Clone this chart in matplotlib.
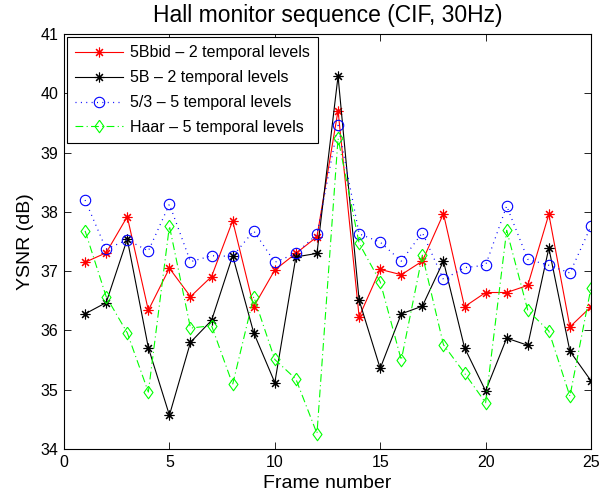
import matplotlib
matplotlib.use("Agg")
import matplotlib.pyplot as plt

plt.rcParams['font.family'] = ['Liberation Sans', 'DejaVu Sans']

frames = list(range(1, 26))
psnr_5bbid = [37.15, 37.31, 37.92, 36.34, 37.05, 36.57, 36.91, 37.85, 36.40, 37.02,
              37.30, 37.58, 39.71, 36.23, 37.03, 36.94, 37.17, 37.97, 36.40, 36.64,
              36.64, 36.76, 37.96, 36.06, 36.40]
psnr_5b = [36.28, 36.47, 37.54, 35.71, 34.57, 35.80, 36.17, 37.26, 35.96, 35.12,
           37.24, 37.30, 40.29, 36.51, 35.36, 36.28, 36.41, 37.17, 35.71, 34.98,
           35.87, 35.75, 37.39, 35.65, 35.15]
psnr_53 = [38.20, 37.37, 37.53, 37.34, 38.13, 37.16, 37.26, 37.25, 37.68, 37.15,
           37.30, 37.62, 39.46, 37.63, 37.49, 37.17, 37.65, 36.86, 37.06, 37.10,
           38.10, 37.20, 37.10, 36.97, 37.76]
psnr_haar = [37.68, 36.57, 35.96, 34.96, 37.76, 36.04, 36.08, 35.09, 36.57, 35.51,
             35.18, 34.26, 39.24, 37.47, 36.82, 35.50, 37.27, 35.76, 35.28, 34.78,
             37.69, 36.34, 35.99, 34.89, 36.72]

labels = ["5Bbid \u2013 2 temporal levels", "5B \u2013 2 temporal levels",
          "5/3 \u2013 5 temporal levels", "Haar \u2013 5 temporal levels"]
x_ticks = [0, 5, 10, 15, 20, 25]
y_ticks = [34, 35, 36, 37, 38, 39, 40, 41]

# eight-spoke asterisk and a slightly narrow diamond
asterisk = (8, 2, 0)
diamond = [(0, 1), (0.72, 0), (0, -1), (-0.72, 0), (0, 1)]

fig = plt.figure(figsize=(6.0, 5.01), dpi=100)
ax = fig.add_axes([0.1067, 0.1038, 0.8783, 0.8282])

ax.plot(frames, psnr_5bbid, color='red', linestyle='-', linewidth=0.8,
        marker=asterisk, markersize=7, markeredgewidth=0.8, label=labels[0])
ax.plot(frames, psnr_5b, color='black', linestyle='-', linewidth=0.8,
        marker=asterisk, markersize=7, markeredgewidth=0.8, label=labels[1])
ax.plot(frames, psnr_53, color='blue', linestyle=(0, (0.8, 3.5)), linewidth=0.9,
        marker='o', markersize=7.5, markerfacecolor='none', markeredgewidth=0.8,
        label=labels[2])
ax.plot(frames, psnr_haar, color=(0, 1, 0), linestyle=(0, (7, 3, 1, 3)), linewidth=0.8,
        marker=diamond, markersize=9, markerfacecolor='none', markeredgewidth=0.8,
        label=labels[3])

ax.set_xlim(0, 25)
ax.set_ylim(34, 41)
ax.set_xticks(x_ticks)
ax.set_yticks(y_ticks)
ax.tick_params(direction='in', top=True, right=True, labelsize=11.5, length=5,
               width=0.6, pad=4)
for s in ax.spines.values():
    s.set_linewidth(0.8)

ax.set_xlabel("Frame number", fontsize=14, labelpad=4)
ax.set_ylabel("YSNR (dB)", fontsize=14, labelpad=5)
ax.set_title("Hall monitor sequence (CIF, 30Hz)", fontsize=16.5, pad=9)

leg = ax.legend(loc='upper left', bbox_to_anchor=(0.006, 0.992), fontsize=11.5,
                frameon=True, fancybox=False, edgecolor='black', framealpha=1,
                handlelength=3.0, borderpad=0.5, labelspacing=0.62,
                handletextpad=0.45, borderaxespad=0.0, numpoints=1)
leg.get_frame().set_linewidth(0.8)

fig.savefig("out.png", dpi=100)
